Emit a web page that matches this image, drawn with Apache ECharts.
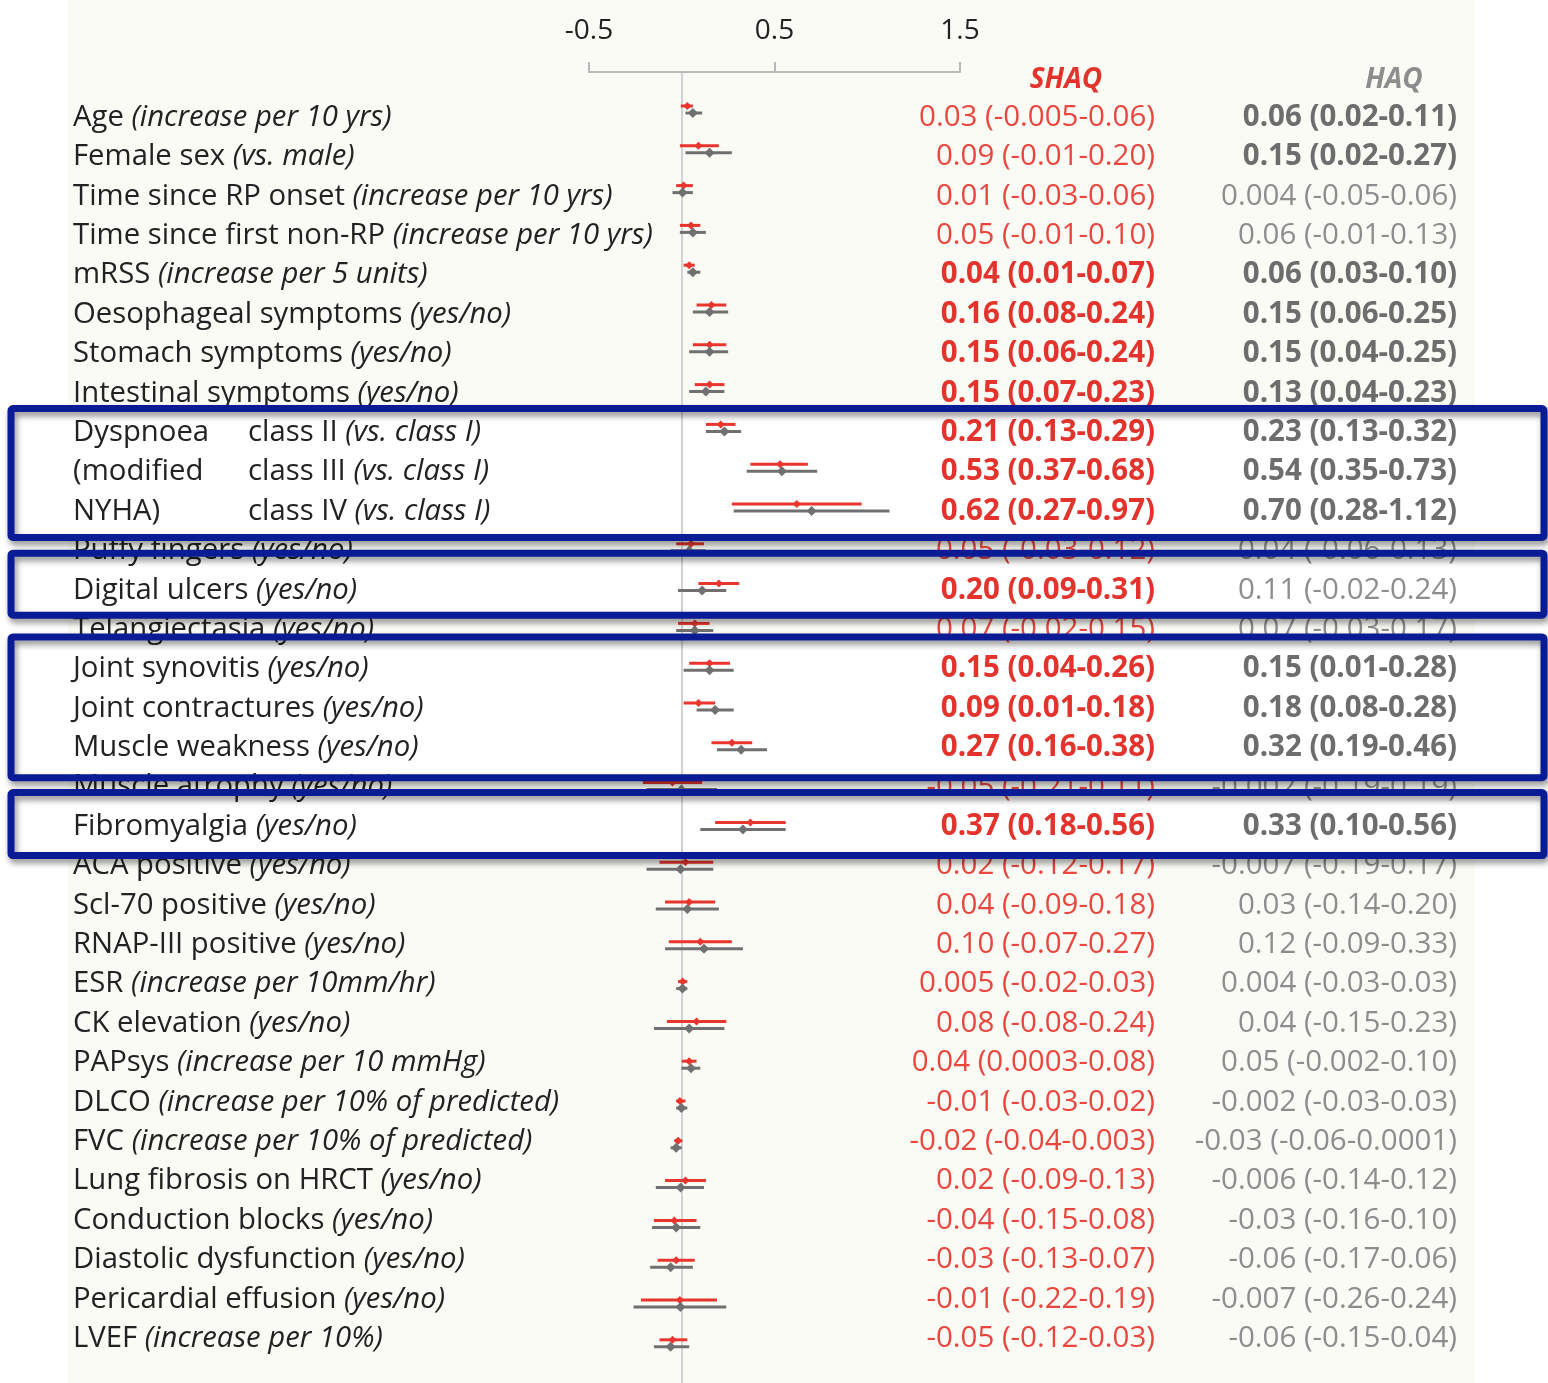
<!DOCTYPE html>
<html>
<head>
<meta charset="utf-8">
<script src="https://cdn.jsdelivr.net/npm/echarts@6/dist/echarts.min.js"></script>
<style>
  html, body { margin: 0; padding: 0; background: #ffffff; }
  #chart { width: 1548px; height: 1383px; }
</style>
</head>
<body>
<div id="chart"></div>
<script>
// ---- Data ---------------------------------------------------------------
// Row labels: optional group lead, main label, italic qualifier
const labelLead = [
  '', '', '', '', '', '', '', '',
  'Dyspnoea', '(modified', 'NYHA)',
  '', '', '', '', '', '', '', '', '', '', '', '', '', '', '', '', '', '', '', '', ''
];
const labelMain = [
  'Age', 'Female sex', 'Time since RP onset', 'Time since first non-RP', 'mRSS',
  'Oesophageal symptoms', 'Stomach symptoms', 'Intestinal symptoms',
  'class II', 'class III', 'class IV',
  'Puffy fingers', 'Digital ulcers', 'Telangiectasia', 'Joint synovitis', 'Joint contractures',
  'Muscle weakness', 'Muscle atrophy', 'Fibromyalgia', 'ACA positive', 'Scl-70 positive',
  'RNAP-III positive', 'ESR', 'CK elevation', 'PAPsys', 'DLCO', 'FVC',
  'Lung fibrosis on HRCT', 'Conduction blocks', 'Diastolic dysfunction', 'Pericardial effusion', 'LVEF'
];
const labelNote = [
  '(increase per 10 yrs)', '(vs. male)', '(increase per 10 yrs)', '(increase per 10 yrs)', '(increase per 5 units)',
  '(yes/no)', '(yes/no)', '(yes/no)',
  '(vs. class I)', '(vs. class I)', '(vs. class I)',
  '(yes/no)', '(yes/no)', '(yes/no)', '(yes/no)', '(yes/no)',
  '(yes/no)', '(yes/no)', '(yes/no)', '(yes/no)', '(yes/no)',
  '(yes/no)', '(increase per 10mm/hr)', '(yes/no)', '(increase per 10 mmHg)',
  '(increase per 10% of predicted)', '(increase per 10% of predicted)',
  '(yes/no)', '(yes/no)', '(yes/no)', '(yes/no)', '(increase per 10%)'
];

// Coefficient (95% CI) per row
const shaqText = [
  '0.03 (-0.005-0.06)', '0.09 (-0.01-0.20)', '0.01 (-0.03-0.06)', '0.05 (-0.01-0.10)', '0.04 (0.01-0.07)',
  '0.16 (0.08-0.24)', '0.15 (0.06-0.24)', '0.15 (0.07-0.23)',
  '0.21 (0.13-0.29)', '0.53 (0.37-0.68)', '0.62 (0.27-0.97)',
  '0.05 (-0.03-0.12)', '0.20 (0.09-0.31)', '0.07 (-0.02-0.15)', '0.15 (0.04-0.26)', '0.09 (0.01-0.18)',
  '0.27 (0.16-0.38)', '-0.05 (-0.21-0.11)', '0.37 (0.18-0.56)', '0.02 (-0.12-0.17)', '0.04 (-0.09-0.18)',
  '0.10 (-0.07-0.27)', '0.005 (-0.02-0.03)', '0.08 (-0.08-0.24)', '0.04 (0.0003-0.08)',
  '-0.01 (-0.03-0.02)', '-0.02 (-0.04-0.003)', '0.02 (-0.09-0.13)', '-0.04 (-0.15-0.08)',
  '-0.03 (-0.13-0.07)', '-0.01 (-0.22-0.19)', '-0.05 (-0.12-0.03)'
];
const haqText = [
  '0.06 (0.02-0.11)', '0.15 (0.02-0.27)', '0.004 (-0.05-0.06)', '0.06 (-0.01-0.13)', '0.06 (0.03-0.10)',
  '0.15 (0.06-0.25)', '0.15 (0.04-0.25)', '0.13 (0.04-0.23)',
  '0.23 (0.13-0.32)', '0.54 (0.35-0.73)', '0.70 (0.28-1.12)',
  '0.04 (-0.06-0.13)', '0.11 (-0.02-0.24)', '0.07 (-0.03-0.17)', '0.15 (0.01-0.28)', '0.18 (0.08-0.28)',
  '0.32 (0.19-0.46)', '-0.002 (-0.19-0.19)', '0.33 (0.10-0.56)', '-0.007 (-0.19-0.17)', '0.03 (-0.14-0.20)',
  '0.12 (-0.09-0.33)', '0.004 (-0.03-0.03)', '0.04 (-0.15-0.23)', '0.05 (-0.002-0.10)',
  '-0.002 (-0.03-0.03)', '-0.03 (-0.06-0.0001)', '-0.006 (-0.14-0.12)', '-0.03 (-0.16-0.10)',
  '-0.06 (-0.17-0.06)', '-0.007 (-0.26-0.24)', '-0.06 (-0.15-0.04)'
];
// 1 = set in bold in the table
const shaqBold = [0,0,0,0,1,1,1,1,1,1,1,0,1,0,1,1,1,0,1,0,0,0,0,0,0,0,0,0,0,0,0,0];
const haqBold  = [1,1,0,0,1,1,1,1,1,1,1,0,0,0,1,1,1,0,1,0,0,0,0,0,0,0,0,0,0,0,0,0];

const axisTicks = [-0.5, 0.5, 1.5];
// Highlighted row groups (first row, last row)
const boxGroups = [[8, 10], [12, 12], [14, 16], [18, 18]];
// frame padding above / below each group, px
const boxPad = [[24, 26], [37, 25], [32, 30], [34, 29]];

// ---- Helpers ------------------------------------------------------------
function parseCI(s) {
  const m = s.match(/^(-?[\d.]+) \((-?[\d.]+)-(-?[\d.]+)\)$/);
  return [parseFloat(m[1]), parseFloat(m[2]), parseFloat(m[3])];
}
const nRows = labelMain.length;
const rowIds = labelMain.map((_, i) => String(i));
const shaqVals = shaqText.map(parseCI);
const haqVals = haqText.map(parseCI);

const FONT = 'Open Sans';
const FS = 29.3;
const FS_NUM = 29.5;
const FS_AXIS = 28;
const RED = '#e2332c';
const RED_LIGHT = '#e9463f';
const GREY_BOLD = '#6d6d6d';
const GREY = '#8d8d8d';
const INK = '#222222';

// text rows
const TEXT_TOP = 97.8, ROW_H = 39.39;
// marker rows
const PLOT_TOP = 72, PLOT_H = 1311, MARK_Y0 = 109.5, MARK_STEP = 39.8;
const yMin = -(MARK_Y0 - PLOT_TOP) / MARK_STEP;
const yMax = yMin + PLOT_H / MARK_STEP;

function ciSeries(vals, color, dy, half, name) {
  return {
    name: name,
    type: 'custom',
    xAxisIndex: 0,
    yAxisIndex: 0,
    z: 5,
    data: vals.map((v, i) => [i, v[1], v[0], v[2]]),
    renderItem: function (params, api) {
      const row = api.value(0);
      const pLo = api.coord([api.value(1), row]);
      const pEst = api.coord([api.value(2), row]);
      const pHi = api.coord([api.value(3), row]);
      const y = pEst[1] + dy;
      return {
        type: 'group',
        children: [
          {
            type: 'line',
            shape: { x1: pLo[0], y1: y, x2: pHi[0], y2: y },
            style: { stroke: color, lineWidth: 3 }
          },
          {
            type: 'polygon',
            shape: { points: [[pEst[0], y - half], [pEst[0] + half, y], [pEst[0], y + half], [pEst[0] - half, y]] },
            style: { fill: color }
          }
        ]
      };
    }
  };
}

const chart = echarts.init(document.getElementById('chart'), null, { renderer: 'canvas' });

const option = {
  backgroundColor: '#ffffff',
  animation: false,
  title: [
    { text: 'SHAQ', left: 1061, top: 61, textAlign: 'center',
      textStyle: { fontFamily: FONT, fontSize: FS_AXIS, fontStyle: 'italic', fontWeight: 'bold', color: RED } },
    { text: 'HAQ', left: 1389, top: 61, textAlign: 'center',
      textStyle: { fontFamily: FONT, fontSize: FS_AXIS, fontStyle: 'italic', fontWeight: 'bold', color: GREY } }
  ],
  grid: [
    { left: 589, width: 371, top: PLOT_TOP, height: PLOT_H, containLabel: false },
    { left: 600, width: 400, top: TEXT_TOP, height: ROW_H * nRows, containLabel: false }
  ],
  xAxis: [
    {
      gridIndex: 0, type: 'value', position: 'top', min: -0.5, max: 1.5, interval: 1, z: 5,
      axisLine: { show: true, onZero: false, lineStyle: { color: '#b9b9b9', width: 2 } },
      axisTick: { show: true, length: 10, lineStyle: { color: '#b9b9b9', width: 2 } },
      splitLine: { show: false },
      axisLabel: {
        margin: 27, fontFamily: FONT, fontSize: FS_AXIS, color: INK,
        formatter: v => (axisTicks.indexOf(v) >= 0 ? String(v) : '')
      }
    },
    { gridIndex: 1, type: 'value', min: 0, max: 1, show: false }
  ],
  yAxis: [
    { gridIndex: 0, type: 'value', inverse: true, min: yMin, max: yMax, show: false },
    {
      gridIndex: 1, type: 'category', data: rowIds, inverse: true, position: 'left', z: 5,
      axisLine: { show: false }, axisTick: { show: false }, splitLine: { show: false },
      axisLabel: {
        interval: 0, align: 'left', margin: 600 - 73, verticalAlign: 'middle',
        formatter: function (v) {
          const i = +v;
          const main = `{m|${labelMain[i]} }{i|${labelNote[i]}}`;
          return labelLead[i] ? `{lead|${labelLead[i]}}` + main : main;
        },
        rich: {
          lead: { fontFamily: FONT, fontSize: FS, color: INK, width: 175 },
          m: { fontFamily: FONT, fontSize: FS, color: INK },
          i: { fontFamily: FONT, fontSize: FS, color: INK, fontStyle: 'italic' }
        }
      }
    },
    {
      gridIndex: 1, type: 'category', data: rowIds, inverse: true, position: 'right', z: 5,
      axisLine: { show: false }, axisTick: { show: false }, splitLine: { show: false },
      axisLabel: {
        interval: 0, align: 'right', margin: 155, verticalAlign: 'middle',
        formatter: v => (shaqBold[+v] ? `{b|${shaqText[+v]}}` : `{n|${shaqText[+v]}}`),
        rich: {
          b: { fontFamily: FONT, fontSize: FS_NUM, color: RED, fontWeight: 'bold' },
          n: { fontFamily: FONT, fontSize: FS_NUM, color: RED_LIGHT }
        }
      }
    },
    {
      gridIndex: 1, type: 'category', data: rowIds, inverse: true, position: 'right', z: 5,
      axisLine: { show: false }, axisTick: { show: false }, splitLine: { show: false },
      axisLabel: {
        interval: 0, align: 'right', margin: 457, verticalAlign: 'middle',
        formatter: v => (haqBold[+v] ? `{b|${haqText[+v]}}` : `{n|${haqText[+v]}}`),
        rich: {
          b: { fontFamily: FONT, fontSize: FS_NUM, color: GREY_BOLD, fontWeight: 'bold' },
          n: { fontFamily: FONT, fontSize: FS_NUM, color: GREY }
        }
      }
    }
  ],
  series: [
    {
      type: 'custom', xAxisIndex: 0, yAxisIndex: 0, data: [], z: 3,
      renderItem: () => null,
      markLine: {
        silent: true, symbol: 'none', label: { show: false },
        lineStyle: { color: '#d2d2d2', width: 2, type: 'solid' },
        data: [{ xAxis: 0 }]
      }
    },
    ciSeries(shaqVals, '#e8352e', -3.5, 4, 'SHAQ'),
    ciSeries(haqVals, '#707070', 3.5, 5, 'HAQ')
  ]
};
chart.setOption(option);

// Background panel and highlight frames around row groups
function rowCenter(i) { return TEXT_TOP + (i + 0.5) * ROW_H; }
const graphics = [
  { type: 'rect', z: -10, silent: true, shape: { x: 68, y: 0, width: 1407, height: 1383 },
    style: { fill: '#fbfbf5' } }
];
boxGroups.forEach(([a, b], k) => {
  const top = rowCenter(a) - boxPad[k][0];
  const bottom = rowCenter(b) + boxPad[k][1];
  graphics.push({
    type: 'rect', z: -5, silent: true,
    shape: { x: 11, y: top, width: 1533, height: bottom - top },
    style: { fill: '#ffffff' }
  });
  graphics.push({
    type: 'rect', z: 20, silent: true,
    shape: { x: 11, y: top, width: 1533, height: bottom - top, r: 2 },
    style: { fill: null, stroke: '#0a1c95', lineWidth: 7,
      shadowColor: 'rgba(0,0,0,0.45)', shadowBlur: 6, shadowOffsetX: 2, shadowOffsetY: 4 }
  });
});
chart.setOption({ graphic: { elements: graphics } });
</script>
</body>
</html>
